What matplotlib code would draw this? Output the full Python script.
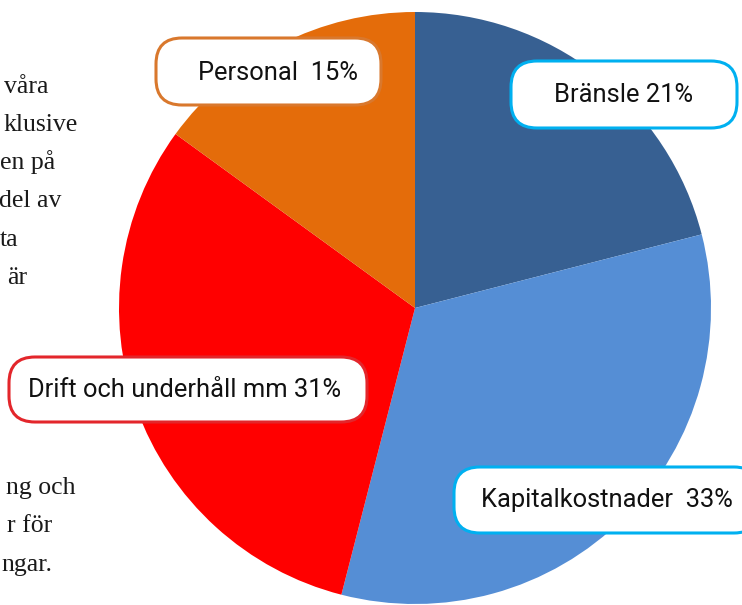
"""
Kostnadsfördelning: cirkeldiagram med etiketter i rundade rutor.
"""

import matplotlib.pyplot as plt
from matplotlib.patches import FancyBboxPatch

W, H = 742, 605

# data
categories = ["Bränsle", "Kapitalkostnader", "Drift och underhåll mm", "Personal"]
shares = [21, 33, 31, 15]
label_sep = [" ", "  ", " ", "  "]
colors = ["#376092", "#558ED5", "#FF0000", "#E46C0A"]
border_colors = ["#00B0F0", "#00B0F0", "#E3262B", "#D9782D"]

# label boxes in pixel coordinates: (x0, y0, x1, y1)
label_boxes = [
    (511, 61, 737, 128),
    (454, 467, 760, 533),
    (9, 357, 367, 422),
    (156, 38, 381, 105),
]
label_centers = [(624, 95), (607, 500), (185, 390), (278, 73)]

# cropped body text at the left edge (right end x, baseline y)
body_lines = ["våra", "klusive", "en på", "del av", "ta", "är"]
body_right = [48, 78, 55, 61, 18, 27]
body_base = [93, 131, 169, 207, 246, 284]
body_lines2 = ["ng och", "r för", "ngar."]
body_right2 = [75, 52, 52]
body_base2 = [494, 532, 571]


def py(y):
    """pixel row -> data y"""
    return H - y


fig = plt.figure(figsize=(W / 100, H / 100), dpi=100)
ax = fig.add_axes([0, 0, 1, 1])

ax.pie(
    shares,
    colors=colors,
    startangle=90,
    counterclock=False,
    center=(415, py(308)),
    radius=296,
    wedgeprops=dict(linewidth=0),
    frame=True,
)
ax.set_xlim(0, W)
ax.set_ylim(0, H)
ax.set_aspect("equal")
ax.axis("off")

for text, xr, yb in zip(body_lines + body_lines2, body_right + body_right2,
                        body_base + body_base2):
    ax.text(xr, py(yb), text, ha="right", va="baseline", fontsize=18.5,
            family="Liberation Serif", color="#1a1a1a")

for i, cat in enumerate(categories):
    x0, y0, x1, y1 = label_boxes[i]
    box = FancyBboxPatch(
        (x0, py(y1)), x1 - x0, y1 - y0,
        boxstyle="round,pad=0,rounding_size=26",
        facecolor="white",
        edgecolor=border_colors[i],
        linewidth=2.2,
        zorder=5,
    )
    ax.add_patch(box)
    cx, cy = label_centers[i]
    ax.text(cx, py(cy), f"{cat}{label_sep[i]}{shares[i]}%", ha="center",
            va="center", fontsize=18.4, family="Roboto", color="#111111",
            zorder=6)

plt.savefig("out.png", dpi=100)
